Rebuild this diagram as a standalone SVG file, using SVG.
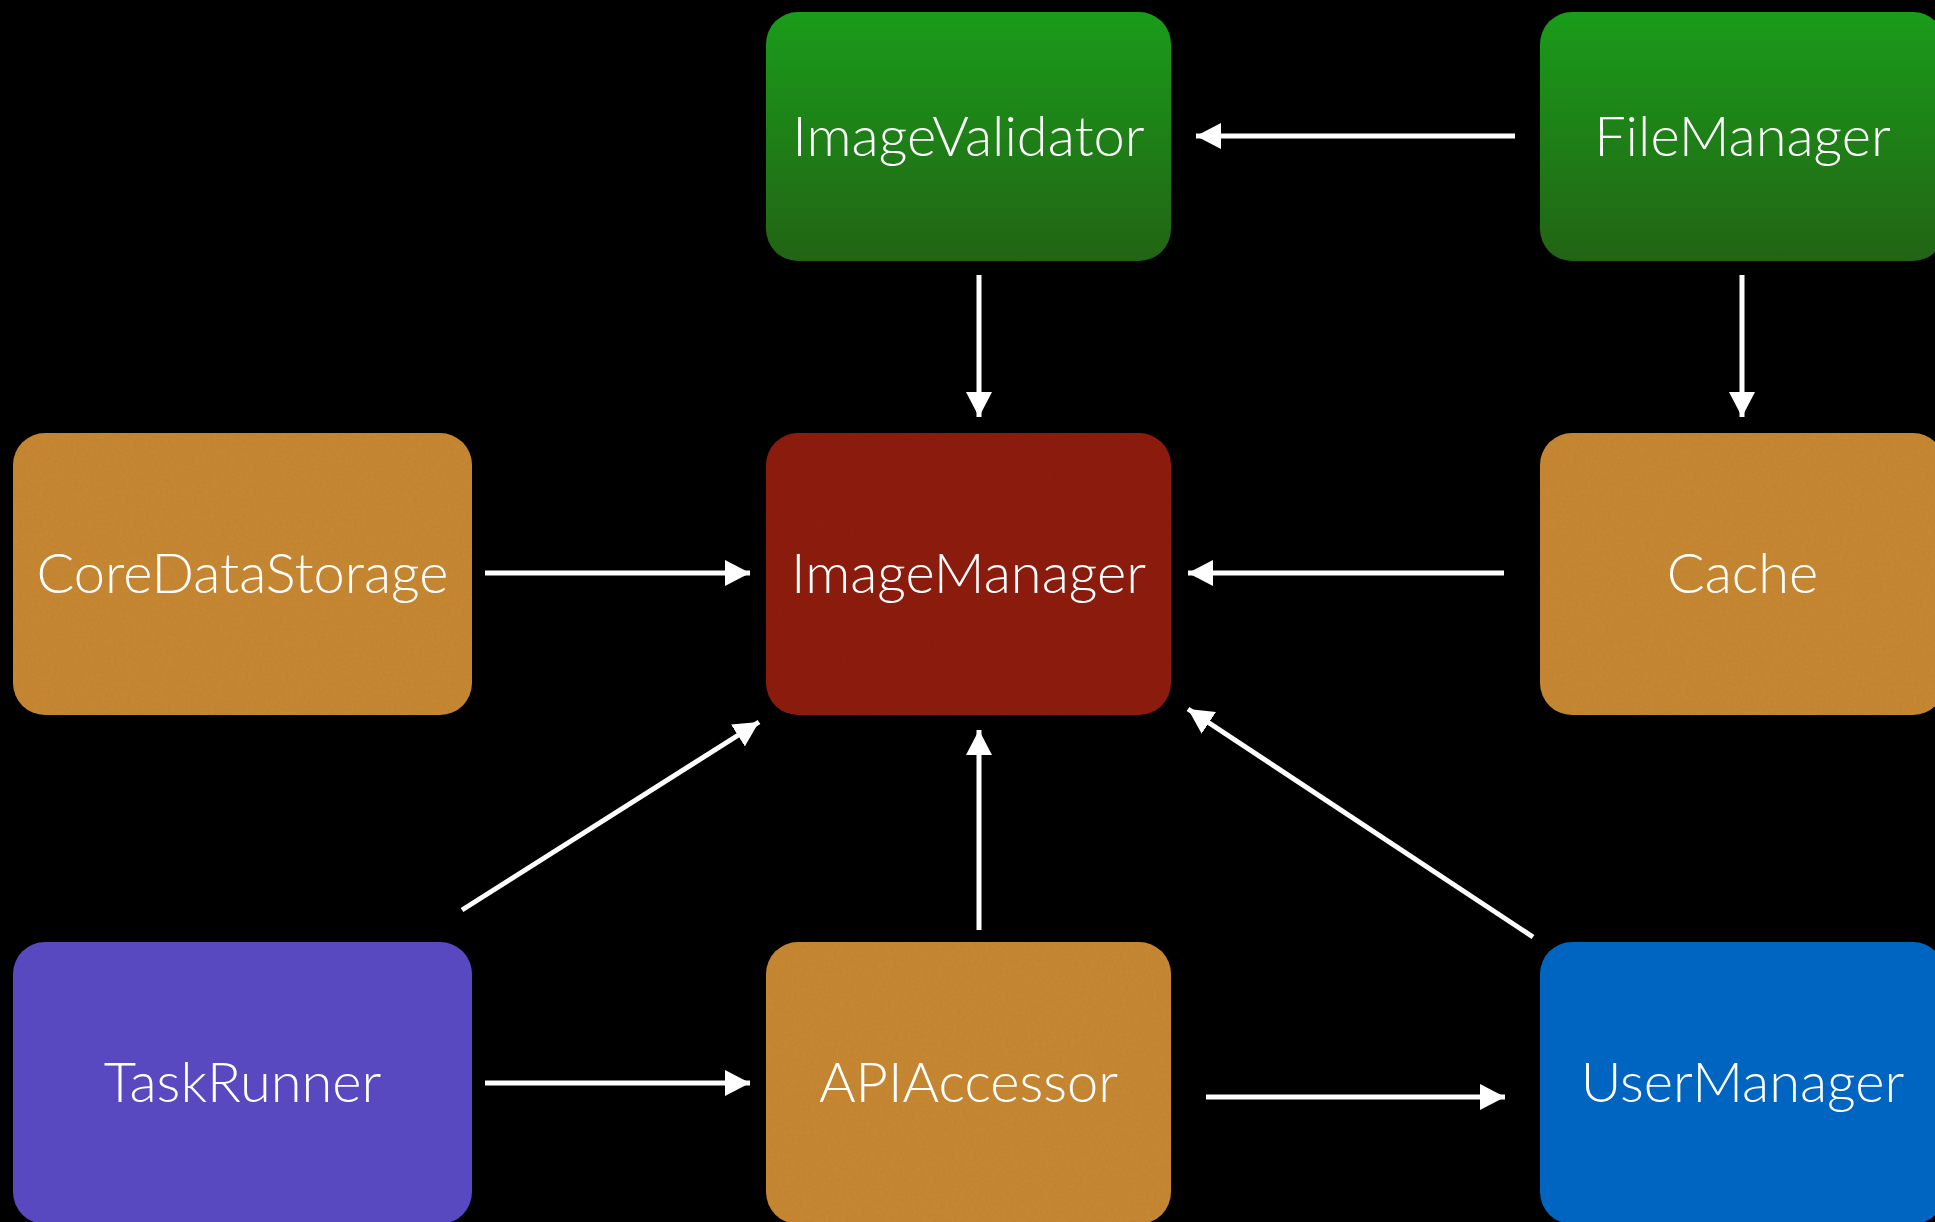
<svg xmlns="http://www.w3.org/2000/svg" width="1935" height="1222" viewBox="0 0 1935 1222">
  <style>
    .box { stroke: none; }
    .green { fill: url(#greenGrad); }
    .orange { fill: #c98936; filter: url(#grain); }
    .red { fill: #8f2218; filter: url(#grain); }
    .purple { fill: #5849c0; }
    .blue { fill: #0064c1; }
    .label { font-family: Lato, "Liberation Sans", Arial, sans-serif; font-weight: 300; font-size: 56px; fill: #ffffff; text-anchor: middle; }
    .conn line { stroke: #ffffff; stroke-width: 5; fill: none; marker-end: url(#arrow); }
  </style>
  <defs>
    <linearGradient id="greenGrad" x1="0" y1="0" x2="0" y2="1">
      <stop offset="0" stop-color="#1a9c1a"/>
      <stop offset="1" stop-color="#226414"/>
    </linearGradient>
    <!-- subtle paper grain for the textured tiles -->
    <filter id="grain" x="0" y="0" width="100%" height="100%">
      <feTurbulence type="fractalNoise" baseFrequency="0.35" numOctaves="2" seed="4" result="noise"/>
      <feColorMatrix in="noise" type="matrix" values="0 0 0 0 0  0 0 0 0 0  0 0 0 0 0  0 0 0 0.1 0" result="dark"/>
      <feComposite in="dark" in2="SourceGraphic" operator="in" result="darkIn"/>
      <feMerge>
        <feMergeNode in="SourceGraphic"/>
        <feMergeNode in="darkIn"/>
      </feMerge>
    </filter>
    <marker id="arrow" markerUnits="userSpaceOnUse" markerWidth="26" markerHeight="26" refX="25" refY="13" orient="auto">
      <path d="M0,0 L25,13 L0,26 Z" fill="#ffffff"/>
    </marker>
  </defs>

  <rect x="0" y="0" width="1935" height="1222" fill="#000000"/>

  <g id="connectors" class="conn">
    <line x1="1515" y1="136" x2="1196" y2="136"/>
    <line x1="979" y1="275" x2="979" y2="417"/>
    <line x1="1742" y1="275" x2="1742" y2="417"/>
    <line x1="485" y1="573" x2="750" y2="573"/>
    <line x1="1504" y1="573" x2="1188" y2="573"/>
    <line x1="462" y1="910" x2="759" y2="722"/>
    <line x1="979" y1="930" x2="979" y2="730"/>
    <line x1="1533" y1="937" x2="1188" y2="709"/>
    <line x1="485" y1="1083" x2="750" y2="1083"/>
    <line x1="1206" y1="1097" x2="1505" y2="1097"/>
  </g>

  <g id="imageValidator">
    <rect class="box green" x="766" y="12" width="405" height="249" rx="32"/>
    <text class="label" x="968.5" y="156">ImageValidator</text>
  </g>
  <g id="fileManager">
    <rect class="box green" x="1540" y="12" width="405" height="249" rx="32"/>
    <text class="label" x="1742.5" y="156">FileManager</text>
  </g>
  <g id="coreDataStorage">
    <rect class="box orange" x="13" y="433" width="459" height="282" rx="32"/>
    <text class="label" x="242.5" y="593">CoreDataStorage</text>
  </g>
  <g id="imageManager">
    <rect class="box red" x="766" y="433" width="405" height="282" rx="32"/>
    <text class="label" x="968.5" y="593">ImageManager</text>
  </g>
  <g id="cache">
    <rect class="box orange" x="1540" y="433" width="405" height="282" rx="32"/>
    <text class="label" x="1742.5" y="593">Cache</text>
  </g>
  <g id="taskRunner">
    <rect class="box purple" x="13" y="942" width="459" height="282" rx="32"/>
    <text class="label" x="242.5" y="1102">TaskRunner</text>
  </g>
  <g id="apiAccessor">
    <rect class="box orange" x="766" y="942" width="405" height="282" rx="32"/>
    <text class="label" x="968.5" y="1102">APIAccessor</text>
  </g>
  <g id="userManager">
    <rect class="box blue" x="1540" y="942" width="405" height="282" rx="32"/>
    <text class="label" x="1742.5" y="1102">UserManager</text>
  </g>
</svg>
